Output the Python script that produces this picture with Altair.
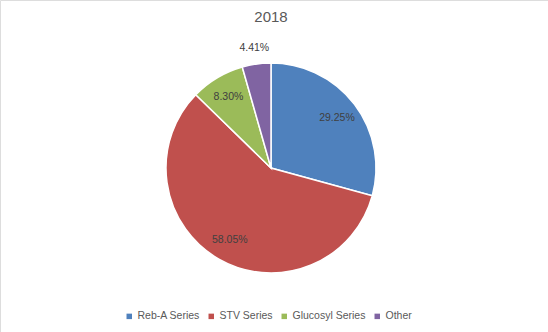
import altair as alt
import pandas as pd

title_text = "2018"
categories = ["Reb-A Series", "STV Series", "Glucosyl Series", "Other"]
shares = [29.25, 58.05, 8.30, 4.41]
labels = ["29.25%", "58.05%", "8.30%", "4.41%"]
colors = ["#4F81BD", "#C0504D", "#9BBB59", "#8064A2"]

df = pd.DataFrame({
    "category": categories,
    "share": shares,
    "label": labels,
    "order": list(range(len(categories))),
    "outside": [False, False, False, True],
})

FONT = "Liberation Sans"
CX, CY, R = 271, 168, 105

base = alt.Chart(df).encode(
    theta=alt.Theta("share:Q", stack=True),
    order=alt.Order("order:Q"),
)

pie = base.mark_arc(outerRadius=R, stroke="white", strokeWidth=1.5).encode(
    x=alt.value(CX),
    y=alt.value(CY),
    color=alt.Color(
        "category:N",
        scale=alt.Scale(domain=categories, range=colors),
        sort=categories,
        legend=alt.Legend(
            title=None,
            orient="none",
            direction="horizontal",
            legendX=124,
            legendY=311,
            symbolType="square",
            symbolSize=30,
            symbolStrokeWidth=0,
            labelFont=FONT,
            labelFontSize=10.5,
            labelColor="#595959",
            labelOffset=3,
            columnPadding=6,
        ),
    ),
)

inside = base.mark_text(
    radius=83, font=FONT, fontSize=10.5, color="#404040"
).encode(x=alt.value(CX), y=alt.value(CY), text="label:N").transform_filter(
    "!datum.outside"
)

outside = base.mark_text(
    radius=121, font=FONT, fontSize=10.5, color="#404040"
).encode(
    x=alt.value(CX),
    y=alt.value(CY),
    text="label:N",
    opacity=alt.condition("datum.outside", alt.value(1), alt.value(0)),
)

title = alt.Chart(pd.DataFrame({"t": [title_text]})).mark_text(
    font=FONT, fontSize=15, color="#595959", align="center", baseline="middle"
).encode(x=alt.value(271), y=alt.value(17), text="t:N")

chart = (
    alt.layer(pie, inside, outside, title)
    .properties(
        width=548,
        height=332,
        autosize=alt.AutoSizeParams(type="none"),
        padding=0,
    )
    .configure_view(strokeWidth=0, stroke="transparent")
    .configure(background="white")
)

chart.save("out.html", embed_options={"renderer": "svg", "actions": False})
